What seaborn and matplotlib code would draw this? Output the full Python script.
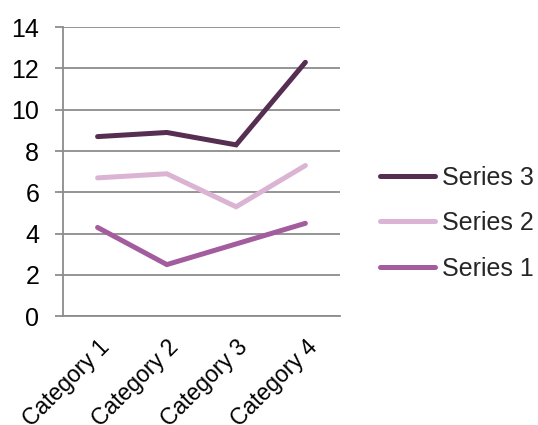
import matplotlib
matplotlib.use("Agg")
import matplotlib.pyplot as plt
import seaborn as sns
import pandas as pd

categories = ["Category 1", "Category 2", "Category 3", "Category 4"]
series_1 = [4.3, 2.5, 3.5, 4.5]
series_2 = [6.7, 6.9, 5.3, 7.3]
series_3 = [8.7, 8.9, 8.3, 12.3]
series_names = ["Series 1", "Series 2", "Series 3"]
colors = {"Series 1": "#a35c9d", "Series 2": "#dbb4d3", "Series 3": "#552e52"}

rows = []
for name, vals in zip(series_names, [series_1, series_2, series_3]):
    for i, (cat, v) in enumerate(zip(categories, vals)):
        rows.append({"x": i, "category": cat, "value": v, "series": name})
df = pd.DataFrame(rows)

sns.set_theme(style="white")
plt.rcParams["font.family"] = ["Liberation Sans", "DejaVu Sans"]

fig = plt.figure(figsize=(5.38, 4.25), dpi=100)
ax = fig.add_axes([0.117, 0.256, 0.515, 0.68])

sns.lineplot(data=df, x="x", y="value", hue="series", hue_order=series_names,
             palette=colors, linewidth=3.6, ax=ax, legend=False,
             solid_capstyle="round", solid_joinstyle="miter")

grid_color = "#8c8c8c"
ax.set_ylim(0, 14)
ax.set_xlim(-0.5, 3.5)
ax.set_yticks(range(0, 15, 2))
ax.set_yticklabels([str(v) for v in range(0, 15, 2)], fontsize=18, color="black")
ax.set_xticks(range(len(categories)))
ax.set_xticklabels(categories, rotation=45, ha="right", va="top",
                   rotation_mode="anchor", fontsize=16.5, color="black")
ax.set_xticks([-0.5, 0.5, 1.5, 2.5, 3.5], minor=True)
ax.tick_params(axis="x", which="major", length=0, pad=14)
ax.tick_params(axis="x", which="minor", length=6, width=1.3, color=grid_color, direction="out")
ax.tick_params(axis="y", which="major", length=6, width=1.3, color=grid_color,
               direction="out", pad=11, left=True)
ax.set_xlabel("")
ax.set_ylabel("")

ax.yaxis.grid(True, color=grid_color, linewidth=1.3)
ax.set_axisbelow(True)
for side in ["top", "right"]:
    ax.spines[side].set_visible(False)
for side in ["left", "bottom"]:
    ax.spines[side].set_color(grid_color)
    ax.spines[side].set_linewidth(1.3)

handles = [plt.Line2D([], [], color=colors[n], linewidth=3.6, solid_capstyle="round")
           for n in reversed(series_names)]
fig.legend(handles, list(reversed(series_names)), loc="center left",
           bbox_to_anchor=(0.706, 0.475), frameon=False, fontsize=18,
           handlelength=2.2, handletextpad=0.3, labelspacing=0.86,
           borderaxespad=0, borderpad=0)

fig.savefig("out.png", dpi=100)
